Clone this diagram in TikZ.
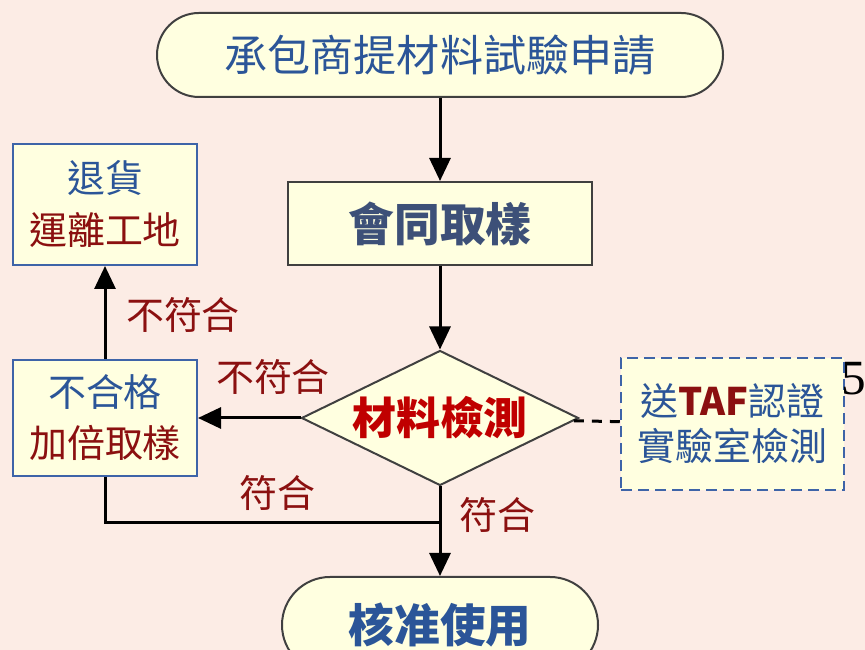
\documentclass[tikz,border=0pt]{standalone}
\usepackage{fontspec}
\newfontfamily\cjk{Noto Sans CJK TC}
\newfontfamily\numfont{Liberation Serif}
\usetikzlibrary{shapes.geometric,arrows.meta}
\definecolor{bgpink}{HTML}{FCECE5}
\definecolor{boxfill}{HTML}{FFFFE0}
\definecolor{boxblue}{HTML}{3E64A8}
\definecolor{txtblue}{HTML}{2B5598}
\definecolor{txtslate}{HTML}{3D5078}
\definecolor{txtred}{HTML}{8B1010}
\definecolor{hotred}{HTML}{C00000}
\tikzset{
  cjkfont/.style={font=\cjk\fontsize{#1}{#1}\selectfont},
  term/.style={draw=black!75, line width=.04cm, fill=boxfill, rounded corners=#1, inner sep=0pt},
  stepbox/.style={draw=boxblue, line width=.04cm, fill=boxfill, align=center, inner sep=0pt,
    minimum width=3.68cm, cjkfont=21.6},
  lbl/.style={text=txtred, cjkfont=21.6, inner sep=0pt}
}
\begin{document}
\begin{tikzpicture}[>={Triangle[width=.42cm,length=.46cm]}, line width=.06cm]
\clip (0,0) rectangle (17.3,13);
\fill[bgpink] (0,0) rectangle (17.3,13);

\node[term=.84cm, minimum width=11.32cm, minimum height=1.68cm, text=txtblue, cjkfont=24.5] (apply) at (8.8,11.9) {承包商提材料試驗申請};
\node[draw=black!75, line width=.04cm, fill=boxfill, minimum width=6.08cm, minimum height=1.66cm, text=txtslate, cjkfont=26] (samp) at (8.8,8.53) {\bfseries 會同取樣};
\node[diamond, aspect=2.05, draw=black!75, line width=.04cm, fill=boxfill, inner sep=0pt, minimum width=5.54cm, minimum height=2.7cm, text=hotred, cjkfont=25] (test) at (8.8,4.64) {\bfseries 材料檢測};
\node[stepbox, minimum height=2.42cm, font=\cjk\fontsize{21.6}{29.6}\selectfont] (ret) at (2.1,8.91) {\textcolor{txtblue}{退貨}\\\textcolor{txtred}{運離工地}};
\node[stepbox, minimum height=2.32cm, font=\cjk\fontsize{21.6}{29}\selectfont] (fail) at (2.1,4.64) {\textcolor{txtblue}{不合格}\\\textcolor{txtred}{加倍取樣}};
\node[stepbox, line width=.05cm, dash pattern=on .22cm off .12cm, minimum width=4.46cm, minimum height=2.64cm, text=txtblue, font=\cjk\fontsize{21.6}{25.6}\selectfont] (taf) at (14.65,4.52) {送\textcolor{txtred}{\bfseries TAF}認證\\實驗室檢測};
\node[term=.96cm, minimum width=6.32cm, minimum height=1.92cm, text=txtblue, cjkfont=26] (ok) at (8.8,0.5) {\bfseries 核准使用};
\coordinate (merge) at (8.8,2.54);

\draw[->] (apply) -- (samp);
\draw[->] (samp) -- (test);
\draw[->] (test) -- (fail);
\draw[->] (fail) -- (ret);
\draw[dash pattern=on .2cm off .16cm] (test) -- (taf);
\draw (fail) |- (merge);
\draw[->] (test) -- (ok);

\node[lbl] (nc1) at (3.66,6.7) {不符合};
\node[lbl] (nc2) at (5.46,5.46) {不符合};
\node[lbl] (ok1) at (5.54,3.14) {符合};
\node[lbl] (ok2) at (9.94,2.7) {符合};
\node[font=\numfont\fontsize{28}{32}\selectfont, inner sep=0pt] (page) at (17.07,5.43) {5};
\end{tikzpicture}
\end{document}
